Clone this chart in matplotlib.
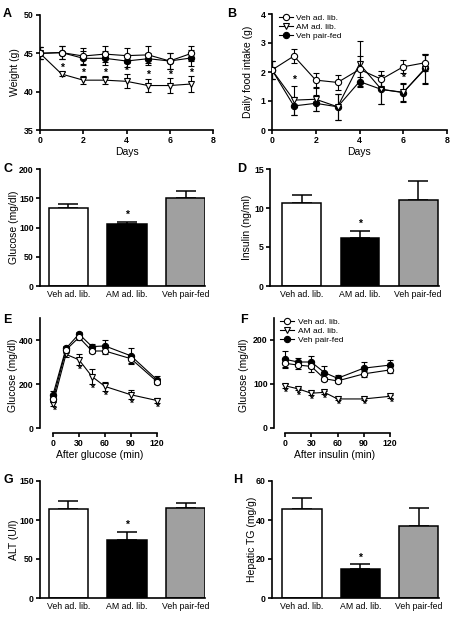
import numpy as np
import matplotlib
matplotlib.use("Agg")
import matplotlib.pyplot as plt
from matplotlib.lines import Line2D

plt.rcParams['font.family'] = ['Liberation Sans', 'DejaVu Sans']

W, H = 454, 623

groups = ["Veh ad. lib.", "AM ad. lib.", "Veh pair-fed"]
bar_colors = ["white", "black", "#a0a0a0"]

# A: body weight
days = [0, 1, 2, 3, 4, 5, 6, 7]
wt_veh = [45.0, 45.1, 44.65, 44.9, 44.7, 44.8, 44.0, 45.0]
wt_veh_err = [0.8, 0.9, 1.0, 1.0, 1.0, 1.1, 1.0, 1.0]
wt_am = [45.0, 42.3, 41.5, 41.5, 41.35, 40.8, 40.8, 41.0]
wt_am_err = [0.8, 0.3, 0.5, 0.5, 0.9, 0.9, 1.0, 1.0]
wt_pf = [45.0, 45.1, 44.35, 44.35, 44.0, 44.3, 44.0, 44.4]
wt_pf_err = [0.8, 0.9, 0.9, 0.9, 0.8, 0.8, 1.0, 1.0]
wt_star = [1, 2, 3, 4, 5, 6, 7]

# B: daily food intake
fd_veh = [2.07, 2.55, 1.72, 1.64, 2.09, 1.75, 2.18, 2.32]
fd_veh_err = [0.3, 0.25, 0.25, 0.25, 0.45, 0.28, 0.22, 0.3]
fd_am = [2.07, 1.03, 1.06, 0.80, 2.28, 1.40, 1.30, 2.10]
fd_am_err = [0.3, 0.5, 0.4, 0.45, 0.78, 0.5, 0.3, 0.5]
fd_pf = [2.07, 0.83, 0.92, 0.80, 1.67, 1.40, 1.29, 2.13]
fd_pf_err = [0.3, 0.3, 0.28, 0.45, 0.15, 0.5, 0.33, 0.5]
fd_star = {1: 1.72, 6: 1.8}

# C, D, G, H: bar panels
glucose = [133, 106, 150]
glucose_err = [7, 4, 13]
insulin = [10.7, 6.2, 11.07]
insulin_err = [0.95, 0.9, 2.33]
alt = [114.5, 75, 116]
alt_err = [10.5, 10, 6]
htg = [45.6, 14.7, 36.8]
htg_err = [5.7, 2.7, 9.4]

# E: glucose tolerance
gtt_t = [0, 15, 30, 45, 60, 90, 120]
gtt_veh = [131, 355, 412, 350, 350, 315, 211]
gtt_veh_err = [12, 12, 10, 10, 15, 18, 12]
gtt_am = [110, 335, 310, 234, 189, 151, 125]
gtt_am_err = [12, 10, 25, 35, 20, 20, 12]
gtt_pf = [151, 362, 427, 370, 373, 328, 219]
gtt_pf_err = [15, 12, 8, 12, 25, 35, 18]

# F: insulin tolerance
itt_t = [0, 15, 30, 45, 60, 90, 120]
itt_veh = [147, 143, 140, 112, 107, 123, 132]
itt_veh_err = [10, 9, 12, 5, 5, 7, 8]
itt_am = [96, 89, 79, 81, 66, 66, 72]
itt_am_err = [4, 3, 3, 3, 2, 2, 3]
itt_pf = [156, 150, 150, 126, 113, 136, 143]
itt_pf_err = [18, 10, 14, 14, 7, 15, 12]

fig = plt.figure(figsize=(W / 100, H / 100), dpi=100)


def ax_px(l, t, r, b):
    ax = fig.add_axes([l / W, 1 - b / H, (r - l) / W, (b - t) / H])
    ax._px = (l, r)
    return ax


def style(ax):
    for s in ["top", "right"]:
        ax.spines[s].set_visible(False)
    for s in ["left", "bottom"]:
        ax.spines[s].set_linewidth(1.2)
    ax.tick_params(direction="out", length=3, width=1.2, labelsize=6.3, pad=1.5)
    for lab in ax.get_xticklabels() + ax.get_yticklabels():
        lab.set_fontweight("bold")


def ylab(ax, text, xc):
    # xc = pixel x of the label's centre
    l, r = ax._px
    ax.set_ylabel(text, fontsize=7.5)
    ax.yaxis.set_label_coords((xc + 5 - l) / (r - l), 0.5)


def star(ax, x, y):
    ax.text(x, y, "*", ha="center", va="center", fontsize=7.5, fontweight="bold")


def letter(x, y, s):
    fig.text(x / W, 1 - y / H, s, fontsize=9, fontweight="bold", ha="center", va="center")


def lines(ax, x, veh, veh_e, am, am_e, pf, pf_e, legend=False):
    kw = dict(color="black", lw=0.8, capsize=2, elinewidth=0.8, capthick=0.8, ms=4.5, mew=0.8)
    ax.errorbar(x, pf, yerr=pf_e, marker="o", mfc="black", mec="black", zorder=3, **kw)
    ax.errorbar(x, am, yerr=am_e, marker="v", mfc="white", mec="black", zorder=4, **kw)
    ax.errorbar(x, veh, yerr=veh_e, marker="o", mfc="white", mec="black", zorder=5, **kw)
    if legend:
        hk = dict(color="black", lw=0.8, ms=4.5, mew=0.8, mec="black")
        h = [Line2D([], [], marker="o", mfc="white", **hk),
             Line2D([], [], marker="v", mfc="white", **hk),
             Line2D([], [], marker="o", mfc="black", **hk)]
        ax.legend(h, ["Veh ad. lib.", "AM ad. lib.", "Veh pair-fed"], loc="upper left",
                  bbox_to_anchor=(0.01, 1.04), frameon=False, fontsize=6, handlelength=1.7,
                  handletextpad=0.4, labelspacing=0.15, borderpad=0.1)


def bars(ax, vals, errs, ylim, yticks, ylabel, xlim, xc):
    x = np.arange(len(vals))
    ax.bar(x, vals, width=0.67, color=bar_colors, edgecolor="black", linewidth=1.1, zorder=2)
    ax.errorbar(x, vals, yerr=[np.zeros(len(vals)), errs], fmt="none", ecolor="black",
                elinewidth=1.1, capsize=7, capthick=1.1, zorder=1)
    star(ax, 1, vals[1] + errs[1] + ylim[1] * 0.055)
    ax.set_xlim(*xlim)
    ax.set_ylim(*ylim)
    ax.set_yticks(yticks)
    ax.set_xticks(x)
    ax.set_xticklabels(groups, fontsize=5.6)
    ylab(ax, ylabel, xc)
    style(ax)
    ax.tick_params(axis="x", length=0, pad=3)
    for lab in ax.get_xticklabels():
        lab.set_fontweight("normal")


# A
ax = ax_px(40, 15, 213, 130)
lines(ax, days, wt_veh, wt_veh_err, wt_am, wt_am_err, wt_pf, wt_pf_err)
for d in wt_star:
    star(ax, d, wt_am[d] + wt_am_err[d] + 0.45)
ax.set_xlim(0, 8)
ax.set_ylim(35, 50)
ax.set_xticks([0, 2, 4, 6, 8])
ax.set_yticks([35, 40, 45, 50])
ax.set_xlabel("Days", fontsize=7.5, labelpad=1)
ylab(ax, "Weight (g)", 15)
style(ax)
letter(7, 14, "A")

# B
ax = ax_px(272, 14, 447, 130)
lines(ax, days, fd_veh, fd_veh_err, fd_am, fd_am_err, fd_pf, fd_pf_err, legend=True)
for d, yv in fd_star.items():
    star(ax, d, yv)
ax.set_xlim(0, 8)
ax.set_ylim(0, 4)
ax.set_xticks([0, 2, 4, 6, 8])
ax.set_yticks([0, 1, 2, 3, 4])
ax.set_xlabel("Days", fontsize=7.5, labelpad=1)
ylab(ax, "Daily food intake (g)", 248)
style(ax)
letter(232, 14, "B")

# C
ax = ax_px(40, 169, 205, 286)
bars(ax, glucose, glucose_err, (0, 200), [0, 50, 100, 150, 200], "Glucose (mg/dl)", (-0.487, 2.333), 14)
letter(8, 169, "C")

# D
ax = ax_px(270, 169, 439, 286)
bars(ax, insulin, insulin_err, (0, 15), [0, 5, 10, 15], "Insulin (ng/ml)", (-0.55, 2.36), 247)
letter(242, 169, "D")

# E
ax = ax_px(40, 318, 160, 433)
lines(ax, gtt_t, gtt_veh, gtt_veh_err, gtt_am, gtt_am_err, gtt_pf, gtt_pf_err)
for i, t in enumerate(gtt_t):
    if t == 15:
        continue
    star(ax, t + (1.5 if t == 0 else 0), gtt_am[i] - gtt_am_err[i] - 22)
ax.set_xlim(-15, 123.5)
ax.set_ylim(-22.7, 500)
ax.set_xticks([0, 30, 60, 90, 120])
ax.set_yticks([0, 200, 400])
ax.spines["left"].set_bounds(0, 500)
ax.spines["bottom"].set_bounds(0, 120)
ax.set_xlabel("After glucose (min)", fontsize=7.5, labelpad=1)
ylab(ax, "Glucose (mg/dl)", 13)
style(ax)
letter(7, 320, "E")

# F
ax = ax_px(274, 318, 395, 433)
lines(ax, itt_t, itt_veh, itt_veh_err, itt_am, itt_am_err, itt_pf, itt_pf_err, legend=True)
for i, t in enumerate(itt_t):
    star(ax, t + (1.5 if t == 120 else 0), itt_am[i] - itt_am_err[i] - 12)
ax.set_xlim(-12.6, 125.7)
ax.set_ylim(-11.4, 250)
ax.set_xticks([0, 30, 60, 90, 120])
ax.set_yticks([0, 100, 200])
ax.spines["left"].set_bounds(0, 250)
ax.spines["bottom"].set_bounds(0, 120)
ax.set_xlabel("After insulin (min)", fontsize=7.5, labelpad=1)
ylab(ax, "Glucose (mg/dl)", 244)
style(ax)
letter(244, 320, "F")

# G
ax = ax_px(40, 481, 205, 598)
bars(ax, alt, alt_err, (0, 150), [0, 50, 100, 150], "ALT (U/l)", (-0.487, 2.333), 14)
letter(8, 480, "G")

# H
ax = ax_px(272, 481, 439, 598)
bars(ax, htg, htg_err, (0, 60), [0, 20, 40, 60], "Hepatic TG (mg/g)", (-0.515, 2.35), 252)
letter(238, 480, "H")

fig.savefig("out.png", dpi=100)
